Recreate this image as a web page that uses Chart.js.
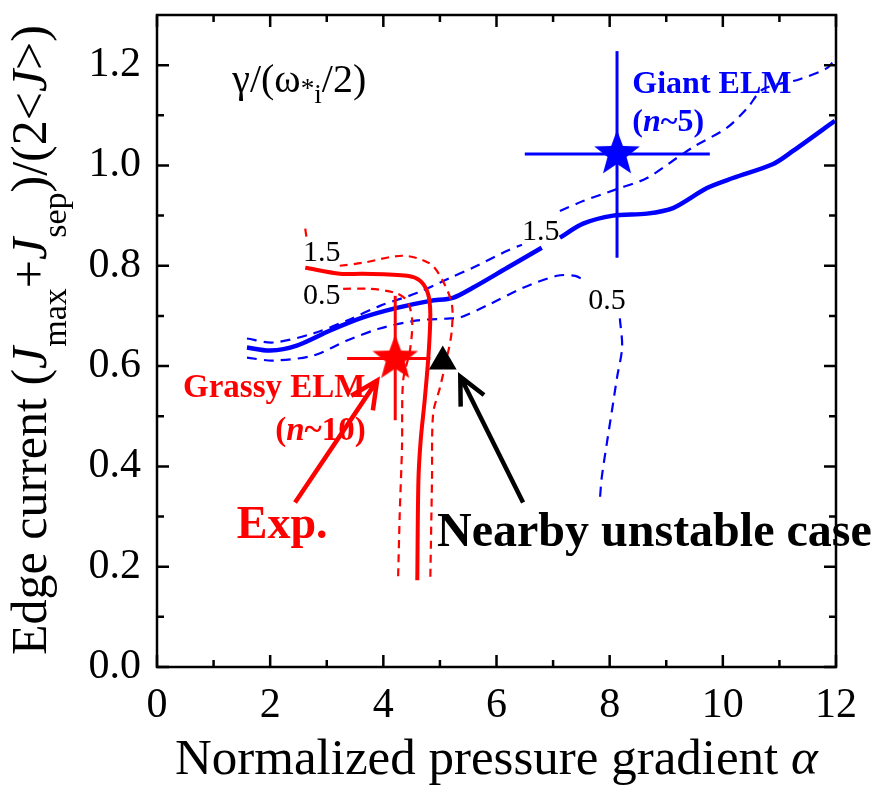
<!DOCTYPE html>
<html>
<head>
<meta charset="utf-8">
<script src="https://cdn.jsdelivr.net/npm/chart.js@4.4.0/dist/chart.umd.min.js"></script>
<style>
  body { margin: 0; background: #fff; }
  #wrap { width: 875px; height: 787px; }
</style>
</head>
<body>
<div id="wrap"><canvas id="chart" width="875" height="787"></canvas></div>
<script>
// axis ticks
const xTicks = [0, 2, 4, 6, 8, 10, 12];
const xMinor = [1, 3, 5, 7, 9, 11];
const yTicks = [0, 0.2, 0.4, 0.6, 0.8, 1.0, 1.2];
const yMinor = [0.1, 0.3, 0.5, 0.7, 0.9, 1.1];

// blue contours (null = gap under a contour label)
const blueSolidX = [1.59, 2.00, 2.47, 3.06, 3.64, 4.24, 4.83, 5.23, 5.58, 6.19, 6.80, 6.95, 7.12, 7.53, 8.06, 8.66, 9.12, 9.72, 10.18, 10.89, 11.24, 11.98];
const blueSolidY = [0.637, 0.631, 0.641, 0.671, 0.697, 0.716, 0.730, 0.736, 0.756, 0.796, 0.836, null, 0.856, 0.884, 0.900, 0.904, 0.915, 0.955, 0.975, 1.003, 1.029, 1.089];
const blueUpperX = [1.59, 2.05, 2.76, 3.36, 3.94, 4.60, 5.18, 5.58, 6.19, 6.45, 6.8, 7.12, 7.53, 8.13, 8.66, 9.24, 9.51, 10.07, 10.43, 10.71, 11.36, 11.84, 11.98];
const blueUpperY = [0.655, 0.647, 0.665, 0.691, 0.720, 0.746, 0.776, 0.796, 0.830, 0.842, null, 0.909, 0.929, 0.953, 0.975, 1.019, 1.039, 1.075, 1.114, 1.152, 1.172, 1.194, 1.212];
const blueLowerX = [1.59, 2.05, 2.76, 3.36, 3.94, 4.60, 5.18, 5.36, 5.89, 6.47, 7.07, 7.39, 7.56, 7.9, 8.18, 8.22, 8.13, 8.04, 7.95, 7.86, 7.83];
const blueLowerY = [0.617, 0.611, 0.621, 0.651, 0.675, 0.691, 0.695, 0.697, 0.724, 0.756, 0.780, 0.780, 0.770, null, 0.695, 0.637, 0.577, 0.511, 0.446, 0.378, 0.338];

// red contours
const redSolidX = [2.62, 3.23, 3.64, 4.42, 4.65, 4.79, 4.83, 4.80, 4.73, 4.66, 4.62, 4.60];
const redSolidY = [0.796, 0.784, 0.784, 0.780, 0.770, 0.744, 0.704, 0.625, 0.531, 0.452, 0.372, 0.173];
const redOuterX = [2.62, 2.65, 2.9, 3.23, 3.64, 4.35, 4.83, 5.05, 5.21, 5.21, 5.14, 5.00, 4.88, 4.86, 4.83];
const redOuterY = [0.874, 0.850, null, 0.800, 0.806, 0.820, 0.804, 0.770, 0.724, 0.671, 0.625, 0.557, 0.505, 0.372, 0.173];
const redInnerX = [3.29, 3.76, 4.21, 4.42, 4.51, 4.47, 4.35, 4.33, 4.29, 4.26];
const redInnerY = [0.754, 0.754, 0.746, 0.730, 0.691, 0.631, 0.571, 0.438, 0.306, 0.173];

// experimental points with error ranges
const grassyStar = [4.21, 0.615];
const grassyErrX = [3.36, 4.83];
const grassyErrY = [0.492, 0.740];
const giantStar = [8.13, 1.023];
const giantErrX = [6.50, 9.77];
const giantErrY = [0.816, 1.228];
const unstableCase = [5.05, 0.609];

// arrows [x0, y0, x1, y1] in data units
const redArrow = [2.44, 0.328, 3.89, 0.571];
const blackArrow = [6.47, 0.328, 5.36, 0.579];

const BLUE = '#0000ff';
const RED = '#ff0000';
const SERIF = '"Liberation Serif", "Times New Roman", serif';

function pts(xs, ys) {
    return xs.map((x, i) => ({ x: x, y: ys[i] }));
}

function starImage(color, outer, inner) {
    const c = document.createElement('canvas');
    c.width = c.height = outer * 2 + 2;
    const g = c.getContext('2d');
    const cx = outer + 1, cy = outer + 1;
    g.beginPath();
    for (let k = 0; k < 10; k++) {
        const r = k % 2 ? inner : outer;
        const a = -Math.PI / 2 + k * Math.PI / 5;
        g.lineTo(cx + r * Math.cos(a), cy + r * Math.sin(a));
    }
    g.closePath();
    g.fillStyle = color;
    g.fill();
    return c;
}

function line(data, color, width, dash) {
    return {
        data: data,
        showLine: true,
        borderColor: color,
        borderWidth: width,
        borderDash: dash || [],
        pointRadius: 0,
        fill: false,
        spanGaps: false,
        tension: 0.3
    };
}

function errBar(p, color, width) {
    return { data: p, showLine: true, borderColor: color, borderWidth: width, pointRadius: 0, tension: 0 };
}

// text annotations: [text parts, x, y, size, weight, color]
const labels = [
    [[{ t: 'γ/(ω' }, { t: '*', sub: 0.12 }, { t: 'i', sub: 0.28 }, { t: '/2)' }], 1.33, 1.146, 40, 'normal', '#000'],
    [[{ t: 'Giant ELM' }], 8.40, 1.144, 32, 'bold', BLUE],
    [[{ t: '(' }, { t: 'n', it: true }, { t: '~5)' }], 8.40, 1.069, 32, 'bold', BLUE],
    [[{ t: 'Grassy ELM' }], 0.46, 0.539, 33, 'bold', RED],
    [[{ t: '(' }, { t: 'n', it: true }, { t: '~10)' }], 2.09, 0.452, 33, 'bold', RED],
    [[{ t: 'Exp.' }], 1.41, 0.257, 46, 'bold', RED],
    [[{ t: 'Nearby unstable case' }], 4.95, 0.241, 48, 'bold', '#000'],
    [[{ t: '1.5' }], 2.58, 0.810, 30, 'normal', '#000'],
    [[{ t: '0.5' }], 2.58, 0.724, 30, 'normal', '#000'],
    [[{ t: '1.5' }], 6.45, 0.852, 30, 'normal', '#000'],
    [[{ t: '0.5' }], 7.62, 0.714, 30, 'normal', '#000']
];

function drawRich(ctx, parts, x, y, size, weight, color) {
    let cx = x;
    ctx.fillStyle = color;
    ctx.textBaseline = 'alphabetic';
    ctx.textAlign = 'left';
    parts.forEach(p => {
        const s = p.sub !== undefined ? size * 0.68 : size;
        ctx.font = (p.it ? 'italic ' : '') + weight + ' ' + s + 'px ' + SERIF;
        const dy = p.sub !== undefined ? p.sub * size : 0;
        ctx.fillText(p.t, cx, y + dy);
        cx += ctx.measureText(p.t).width;
    });
    return cx - x;
}

function measureRich(ctx, parts, size, weight) {
    let w = 0;
    parts.forEach(p => {
        const s = p.sub !== undefined ? size * 0.68 : size;
        ctx.font = (p.it ? 'italic ' : '') + weight + ' ' + s + 'px ' + SERIF;
        w += ctx.measureText(p.t).width;
    });
    return w;
}

function drawArrow(ctx, xs, ys, a, color) {
    const x0 = xs.getPixelForValue(a[0]), y0 = ys.getPixelForValue(a[1]);
    const x1 = xs.getPixelForValue(a[2]), y1 = ys.getPixelForValue(a[3]);
    const ang = Math.atan2(y1 - y0, x1 - x0);
    const head = 30, spread = 0.45;
    ctx.save();
    ctx.strokeStyle = color;
    ctx.lineWidth = 4.5;
    ctx.lineCap = 'butt';
    ctx.beginPath();
    ctx.moveTo(x0, y0);
    ctx.lineTo(x1, y1);
    ctx.moveTo(x1 - head * Math.cos(ang - spread), y1 - head * Math.sin(ang - spread));
    ctx.lineTo(x1, y1);
    ctx.lineTo(x1 - head * Math.cos(ang + spread), y1 - head * Math.sin(ang + spread));
    ctx.stroke();
    ctx.restore();
}

const framePlugin = {
    id: 'frame',
    afterDraw(chart) {
        const ctx = chart.ctx;
        const a = chart.chartArea;
        const xs = chart.scales.x, ys = chart.scales.y;

        // arrows
        drawArrow(ctx, xs, ys, redArrow, RED);
        drawArrow(ctx, xs, ys, blackArrow, '#000');

        // text annotations
        labels.forEach(l => {
            drawRich(ctx, l[0], xs.getPixelForValue(l[1]), ys.getPixelForValue(l[2]), l[3], l[4], l[5]);
        });

        // frame and inward ticks on all sides
        ctx.save();
        ctx.strokeStyle = '#000';
        ctx.lineWidth = 2.5;
        ctx.strokeRect(a.left, a.top, a.right - a.left, a.bottom - a.top);
        ctx.beginPath();
        const tick = (v, len, horiz) => {
            if (horiz) {
                const px = xs.getPixelForValue(v);
                ctx.moveTo(px, a.bottom); ctx.lineTo(px, a.bottom - len);
                ctx.moveTo(px, a.top); ctx.lineTo(px, a.top + len);
            } else {
                const py = ys.getPixelForValue(v);
                ctx.moveTo(a.left, py); ctx.lineTo(a.left + len, py);
                ctx.moveTo(a.right, py); ctx.lineTo(a.right - len, py);
            }
        };
        xTicks.forEach(v => tick(v, 12, true));
        xMinor.forEach(v => tick(v, 7, true));
        yTicks.forEach(v => tick(v, 12, false));
        yMinor.forEach(v => tick(v, 7, false));
        ctx.stroke();
        ctx.restore();

        // axis titles
        ctx.save();
        const xTitle = [{ t: 'Normalized pressure gradient ' }, { t: 'α', it: true }];
        drawRich(ctx, xTitle, 175, 774, 51, 'normal', '#000');

        const yTitle = [
            { t: 'Edge current (' }, { t: 'J', it: true }, { t: 'max', sub: 0.4 }, { t: '+' },
            { t: 'J', it: true }, { t: 'sep', sub: 0.4 }, { t: ')/(2<' }, { t: 'J', it: true }, { t: '>)' }
        ];
        const yw = measureRich(ctx, yTitle, 50, 'normal');
        ctx.translate(46, 340);
        ctx.rotate(-Math.PI / 2);
        drawRich(ctx, yTitle, -yw / 2, 0, 50, 'normal', '#000');
        ctx.restore();
    }
};

const ctx = document.getElementById('chart').getContext('2d');
const chart = new Chart(ctx, {
    type: 'scatter',
    data: {
        datasets: [
            {
                data: [{ x: unstableCase[0], y: unstableCase[1] }],
                pointStyle: 'triangle', pointRadius: 16, backgroundColor: '#000', borderColor: '#000', borderWidth: 0
            },
            {
                data: [{ x: grassyStar[0], y: grassyStar[1] }],
                pointStyle: starImage(RED, 24, 10), pointRadius: 24
            },
            {
                data: [{ x: giantStar[0], y: giantStar[1] }],
                pointStyle: starImage(BLUE, 24, 10), pointRadius: 24
            },
            errBar(pts(grassyErrX, [grassyStar[1], grassyStar[1]]), RED, 3),
            errBar(pts([grassyStar[0], grassyStar[0]], grassyErrY), RED, 3),
            errBar(pts(giantErrX, [giantStar[1], giantStar[1]]), BLUE, 3),
            errBar(pts([giantStar[0], giantStar[0]], giantErrY), BLUE, 3),
            line(pts(redSolidX, redSolidY), RED, 4),
            line(pts(redOuterX, redOuterY), RED, 2.2, [8, 6]),
            line(pts(redInnerX, redInnerY), RED, 2.2, [8, 6]),
            line(pts(blueSolidX, blueSolidY), BLUE, 4.5),
            line(pts(blueUpperX, blueUpperY), BLUE, 2.2, [10, 7]),
            line(pts(blueLowerX, blueLowerY), BLUE, 2.2, [10, 7])
        ]
    },
    options: {
        responsive: false,
        animation: false,
        layout: { autoPadding: false, padding: { top: 15, right: 39, left: 0, bottom: 0 } },
        plugins: { legend: { display: false }, tooltip: { enabled: false } },
        scales: {
            x: {
                type: 'linear', min: 0, max: 12,
                afterBuildTicks: s => { s.ticks = xTicks.map(v => ({ value: v })); },
                afterFit: s => { s.height = 120; s.paddingLeft = 0; s.paddingRight = 0; },
                grid: { display: false, drawTicks: false },
                border: { display: false },
                ticks: { color: '#000', font: { family: SERIF, size: 42 }, padding: 14, maxRotation: 0 }
            },
            y: {
                type: 'linear', min: 0, max: 1.3,
                afterBuildTicks: s => { s.ticks = yTicks.map(v => ({ value: v })); },
                afterFit: s => { s.width = 157; s.paddingTop = 0; s.paddingBottom = 0; },
                grid: { display: false, drawTicks: false },
                border: { display: false },
                ticks: { color: '#000', font: { family: SERIF, size: 42, lineHeight: 0.6 }, padding: 16, callback: v => v.toFixed(1) }
            }
        }
    },
    plugins: [framePlugin]
});
</script>
</body>
</html>
